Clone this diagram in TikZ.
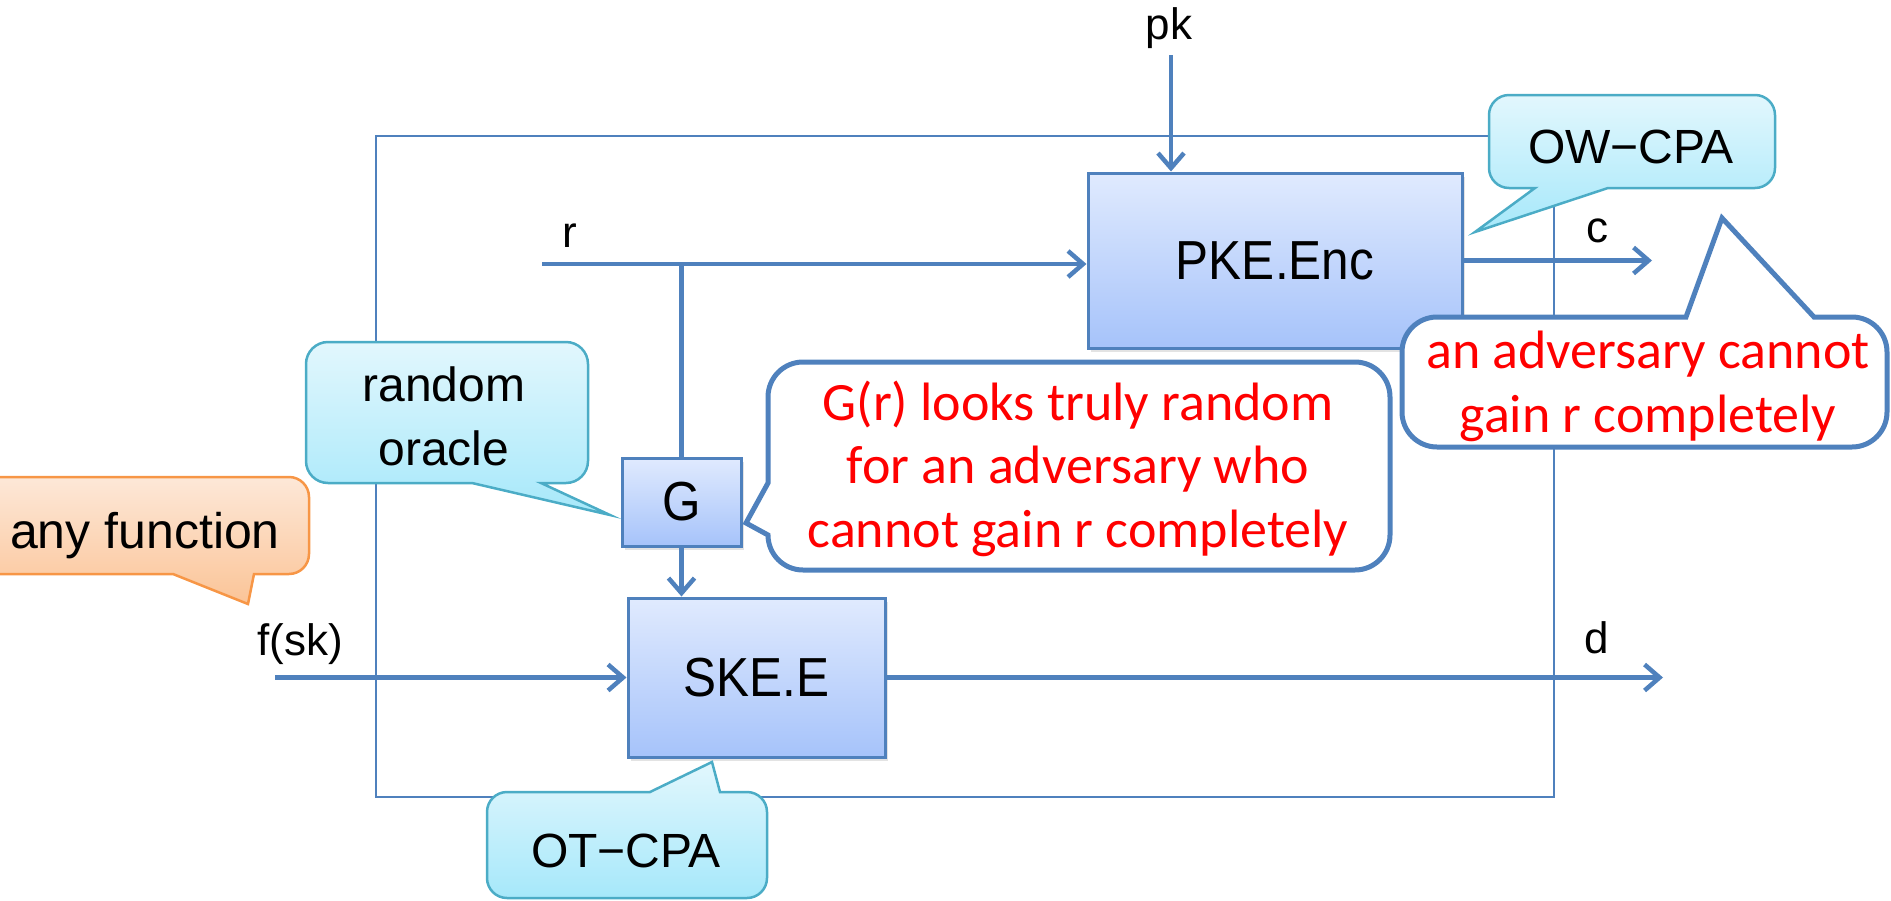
\documentclass[tikz,border=0pt]{standalone}
\usepackage{fontspec}
\setmainfont{Liberation Sans}
\newfontfamily\notefont{Carlito}
\newfontfamily\blockfont[FakeStretch=0.9]{Liberation Sans}
\usetikzlibrary{arrows.meta,shadows}

\definecolor{flow}{HTML}{4F81BD}
\definecolor{boxtop}{HTML}{E0EAFE}
\definecolor{boxbot}{HTML}{A6C3FA}
\definecolor{tiptop}{HTML}{E2F7FD}
\definecolor{tipbot}{HTML}{A6E8FA}
\definecolor{tipline}{HTML}{4BACC6}
\definecolor{ortop}{HTML}{FDE8D8}
\definecolor{orbot}{HTML}{FBC497}
\definecolor{orline}{HTML}{F79646}
\definecolor{warn}{HTML}{FF0000}

\tikzset{
  flowline/.style={draw=flow, line width=4.5pt},
  flowarrow/.style={flowline, -{Straight Barb[length=15pt,width=26pt]}},
  frame/.style={draw=flow, line width=2.5pt},
  block/.style={draw=flow, line width=3pt, top color=boxtop, bottom color=boxbot,
    inner sep=0pt, font=\blockfont\fontsize{55}{64}\selectfont,
    drop shadow={shadow xshift=3pt, shadow yshift=-4pt, opacity=0.22}},
  lab/.style={anchor=base, inner sep=0pt, font=\fontsize{44}{52}\selectfont},
  hintbubble/.style={top color=tiptop, bottom color=tipbot, draw=tipline, line width=2.5pt},
  warmbubble/.style={top color=ortop, bottom color=orbot, draw=orline, line width=2.5pt},
  notebubble/.style={fill=white, draw=flow, line width=5pt},
  hinttext/.style={anchor=base, inner sep=0pt, font=\fontsize{48}{58}\selectfont},
  notetext/.style={anchor=base, inner sep=0pt, text=warn, font=\notefont\fontsize{54}{64}\selectfont},
}

\begin{document}
\begin{tikzpicture}[x=1pt, y=-1pt]
\useasboundingbox (0,0) rectangle (1891,900);
\clip (0,0) rectangle (1891,900);

% enclosing frame of the construction
\draw[frame] (376,136) rectangle (1554,797);

% building blocks
\node[block, minimum width=374pt, minimum height=175pt] (pke) at (1275,260.5) {PKE.Enc};
\node[block, minimum width=119pt, minimum height=88pt] (g) at (681.5,502) {G};
\node[block, minimum width=257pt, minimum height=159pt] (ske) at (756.5,677.5) {SKE.E};

% inputs and outputs
\coordinate (pkin) at (1171,55);
\coordinate (rin) at (542,264);
\coordinate (fin) at (275,677.5);
\coordinate (cout) at (1652,260.5);
\coordinate (dout) at (1663,677.5);

\draw[flowarrow] (pkin) -- (pkin |- pke.north);
\draw[flowarrow] (rin) -- (rin -| pke.west);
\draw[flowline] (rin -| g.north) -- (g.north);
\draw[flowarrow] (g.south) -- (g.south |- ske.north);
\draw[flowarrow] (fin) -- (ske.west);
\draw[flowarrow] (pke.east) -- (cout);
\draw[flowarrow] (ske.east) -- (dout);

\node[lab] (pklab) at (1169,39) {pk};
\node[lab] (rlab) at (570,247) {r};
\node[lab] (clab) at (1597,242) {c};
\node[lab] (dlab) at (1597,653) {d};
\node[lab] (flab) at (300,655) {f(sk)};

% security notions
\shadedraw[hintbubble] (1489,115) arc[start angle=180,end angle=270,radius=20]
  -- (1755,95) arc[start angle=270,end angle=360,radius=20]
  -- (1775,168) arc[start angle=0,end angle=90,radius=20]
  -- (1608,188) -- (1475,232) -- (1535,188)
  -- (1509,188) arc[start angle=90,end angle=180,radius=20] -- cycle;
\node[hinttext] (owcpa) at (1631,163) {OW−CPA};

\shadedraw[hintbubble] (306,364) arc[start angle=180,end angle=270,radius=22]
  -- (566,342) arc[start angle=270,end angle=360,radius=22]
  -- (588,461) arc[start angle=0,end angle=90,radius=22]
  -- (541,483) -- (610,515) -- (472,483)
  -- (328,483) arc[start angle=90,end angle=180,radius=22] -- cycle;
\node[hinttext] (ro1) at (444,401) {random};
\node[hinttext] (ro2) at (444,465) {oracle};

\shadedraw[warmbubble] (-20,497) arc[start angle=180,end angle=270,radius=20]
  -- (289,477) arc[start angle=270,end angle=360,radius=20]
  -- (309,554) arc[start angle=0,end angle=90,radius=20]
  -- (254,574) -- (248,604) -- (173,574)
  -- (0,574) arc[start angle=90,end angle=180,radius=20] -- cycle;
\node[hinttext, font=\fontsize{50}{60}\selectfont] (anyf) at (145,548) {any function};

\shadedraw[hintbubble] (487,812) arc[start angle=180,end angle=270,radius=20]
  -- (650,792) -- (712,762) -- (720,792)
  -- (747,792) arc[start angle=270,end angle=360,radius=20]
  -- (767,878) arc[start angle=0,end angle=90,radius=20]
  -- (507,898) arc[start angle=90,end angle=180,radius=20] -- cycle;
\node[hinttext] (otcpa) at (626,867) {OT−CPA};

% remarks
\draw[notebubble] (768,397) arc[start angle=180,end angle=270,radius=35]
  -- (1355,362) arc[start angle=270,end angle=360,radius=35]
  -- (1390,535) arc[start angle=0,end angle=90,radius=35]
  -- (803,570) arc[start angle=90,end angle=180,radius=35]
  -- (746,523) -- (768,483) -- cycle;
\node[notetext] (gr1) at (1078,420) {G(r) looks truly random};
\node[notetext] (gr2) at (1078,483) {for an adversary who};
\node[notetext] (gr3) at (1078,547) {cannot gain r completely};

\draw[notebubble] (1402,352) arc[start angle=180,end angle=270,radius=35]
  -- (1686,317) -- (1722,218) -- (1814,317)
  -- (1852,317) arc[start angle=270,end angle=360,radius=35]
  -- (1887,412) arc[start angle=0,end angle=90,radius=35]
  -- (1437,447) arc[start angle=90,end angle=180,radius=35] -- cycle;
\node[notetext] (adv1) at (1648,368) {an adversary cannot};
\node[notetext] (adv2) at (1648,432) {gain r completely};
\end{tikzpicture}
\end{document}
